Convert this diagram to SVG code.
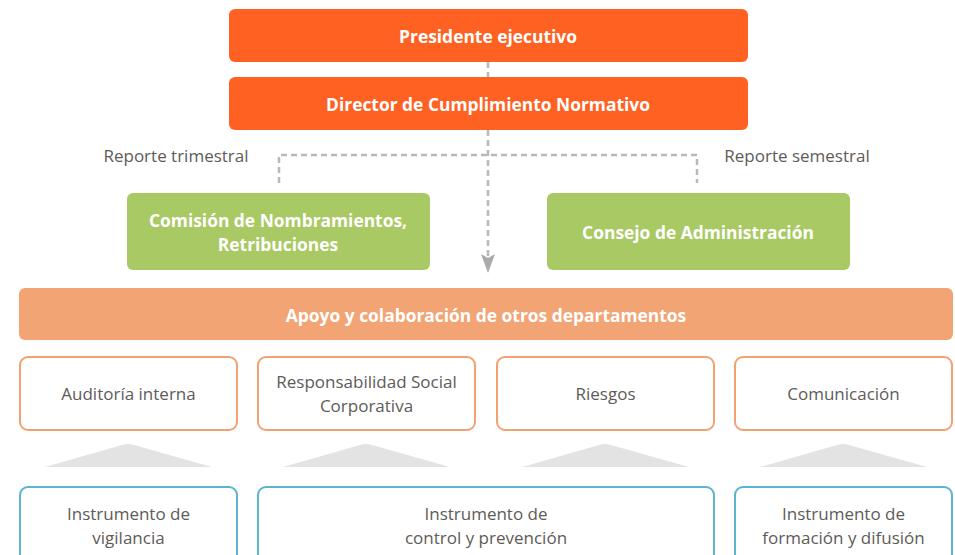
<svg xmlns="http://www.w3.org/2000/svg" width="955" height="555" viewBox="0 0 955 555">
<defs>
<style>
.hdr{fill:#ff6123}
.grn{fill:#a8c963}
.bar{fill:#f2a474}
.dep{fill:#fff;stroke:#f4a172;stroke-width:2}
.ins{fill:#fff;stroke:#5ab4d2;stroke-width:2}
.tri{fill:#e3e3e3}
.wb{font-family:"Open Sans","Noto Sans",sans-serif;font-weight:700;fill:#fff;text-anchor:middle;font-size:17.4px}
.gt{font-family:"Open Sans","Noto Sans",sans-serif;font-weight:400;fill:#5e5b58;text-anchor:middle;font-size:17px}
.dash{fill:none;stroke:#b9b9b9;stroke-width:2.5;stroke-dasharray:6 4}
</style>
</defs>
<g id="connectors">
<line class="dash" x1="488" y1="62" x2="488" y2="77"/>
<line class="dash" x1="488" y1="130" x2="488" y2="256"/>
<path d="M481,254 L488,258 L495,254 L488,273 Z" fill="#ababab"/>
<path class="dash" d="M279,183 L279,155 L697,155 L697,183"/>
<text class="gt" x="176" y="162">Reporte trimestral</text>
<text class="gt" x="797" y="162">Reporte semestral</text>
</g>
<g id="presidente">
<rect class="hdr" x="229" y="9" width="519" height="53" rx="6"/>
<text class="wb" x="488" y="43">Presidente ejecutivo</text>
</g>
<g id="director">
<rect class="hdr" x="229" y="77" width="519" height="53" rx="6"/>
<text class="wb" x="488" y="111">Director de Cumplimiento Normativo</text>
</g>
<g id="comision">
<rect class="grn" x="127" y="193" width="303" height="77" rx="6"/>
<text class="wb" x="278" y="227">Comisión de Nombramientos,</text>
<text class="wb" x="278" y="251">Retribuciones</text>
</g>
<g id="consejo">
<rect class="grn" x="547" y="193" width="303" height="77" rx="6"/>
<text class="wb" x="698" y="239">Consejo de Administración</text>
</g>
<g id="apoyo">
<rect class="bar" x="19" y="288" width="934" height="52" rx="6"/>
<text class="wb" x="486" y="322">Apoyo y colaboración de otros departamentos</text>
</g>
<g id="auditoria">
<rect class="dep" x="20" y="357" width="217" height="73" rx="8"/>
<text class="gt" x="128.5" y="400">Auditoría interna</text>
</g>
<g id="rsc">
<rect class="dep" x="258" y="357" width="217" height="73" rx="8"/>
<text class="gt" x="366.5" y="388">Responsabilidad Social</text>
<text class="gt" x="366.5" y="412">Corporativa</text>
</g>
<g id="riesgos">
<rect class="dep" x="497" y="357" width="217" height="73" rx="8"/>
<text class="gt" x="605.5" y="400">Riesgos</text>
</g>
<g id="comunicacion">
<rect class="dep" x="735" y="357" width="217" height="73" rx="8"/>
<text class="gt" x="843.5" y="400">Comunicación</text>
</g>
<g id="pointers">
<path class="tri" d="M45,467 L122,445 Q128,443 134,445 L212,467 Z"/>
<path class="tri" d="M283,467 L360,445 Q366,443 372,445 L450,467 Z"/>
<path class="tri" d="M522,467 L599,445 Q605,443 611,445 L689,467 Z"/>
<path class="tri" d="M760,467 L837,445 Q843,443 849,445 L927,467 Z"/>
</g>
<g id="vigilancia">
<rect class="ins" x="20" y="487" width="217" height="90" rx="8"/>
<text class="gt" x="128.5" y="520">Instrumento de</text>
<text class="gt" x="128.5" y="544">vigilancia</text>
</g>
<g id="control">
<rect class="ins" x="258" y="487" width="456" height="90" rx="8"/>
<text class="gt" x="486" y="520">Instrumento de</text>
<text class="gt" x="486" y="544">control y prevención</text>
</g>
<g id="formacion">
<rect class="ins" x="735" y="487" width="217" height="90" rx="8"/>
<text class="gt" x="843.5" y="520">Instrumento de</text>
<text class="gt" x="843.5" y="544">formación y difusión</text>
</g>
</svg>
